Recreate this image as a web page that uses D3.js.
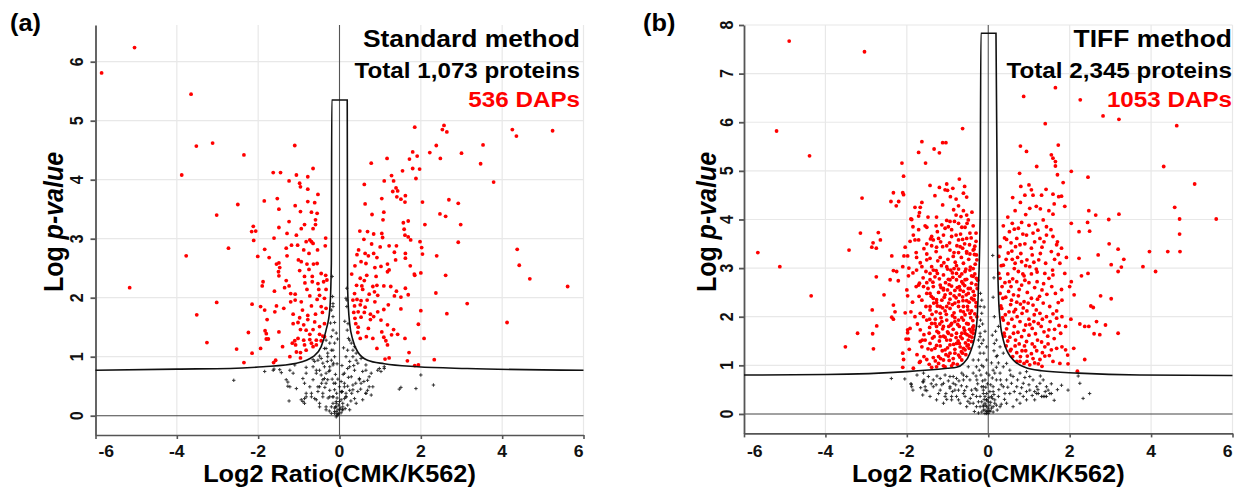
<!DOCTYPE html>
<html>
<head>
<meta charset="utf-8">
<style>
  body { margin: 0; background: #fff; }
  text { font-family: "Liberation Sans", Arial, sans-serif; font-weight: bold; }
</style>
<script src="https://d3js.org/d3.v7.min.js"></script>
</head>
<body>
<script>
// ---- data (log2 ratio, -log10 p) ----
var xTicks = [-6, -4, -2, 0, 2, 4, 6];
var yTicksA = [0, 1, 2, 3, 4, 5, 6];
var yTicksB = [0, 1, 2, 3, 4, 5, 6, 7, 8];
var titleA = ["Standard method", "Total 1,073 proteins", "536 DAPs"];
var titleB = ["TIFF method", "Total 2,345 proteins", "1053 DAPs"];

// threshold curves (left branch, box top, right branch)
var curveA = [[-6,0.77],[-4,0.79],[-2.69,0.80],[-1.88,0.83],[-1.06,0.89],[-0.65,1.0],[-0.45,1.17],[-0.33,1.45],[-0.24,1.79],[-0.2,2.58],[-0.19,5.35],
  [0.19,5.35],[0.2,2.13],[0.25,1.56],[0.33,1.28],[0.45,1.08],[0.69,0.94],[1.1,0.88],[1.92,0.83],[3.14,0.8],[6,0.77]];
var curveB = [[-6,0.80],[-4,0.81],[-2,0.87],[-1,0.94],[-0.78,0.96],[-0.61,1.04],[-0.45,1.25],[-0.29,1.80],[-0.24,2.62],[-0.2,3.99],[-0.18,7.83],
  [0.19,7.83],[0.23,3.17],[0.25,2.48],[0.29,1.93],[0.37,1.52],[0.49,1.25],[0.65,1.08],[0.9,0.96],[1.31,0.89],[2.21,0.84],[3.72,0.80],[6,0.79]];

var redA = [[-5.85,5.81],[-5.04,6.24],[-3.65,5.45],[-3.52,4.57],[-3.12,4.62],[-3.88,4.08],[-3.02,3.40],[-2.73,2.84],[-3.77,2.71],[-5.16,2.17],[-3.02,1.92],[-3.51,1.71],[-3.26,1.24],[-2.53,1.13],[-2.24,1.41],[-2.15,1.06],[-2.15,1.89],[-2.01,2.70],[-1.88,2.27],[-1.80,1.30],
  [-1.10,4.58],[-2.35,4.42],[-1.63,4.12],[-1.45,4.12],[-0.65,4.19],[-1.06,4.08],[-1.24,3.98],[-0.78,4.05],[-0.98,3.94],[-0.96,3.88],[-0.78,3.84],[-0.53,3.75],[-2.50,3.58],[-1.85,3.64],[-1.53,3.68],[-1.49,3.50],[-1.09,3.56],[-0.78,3.63],[-0.61,3.61],[-0.96,3.46],[-0.69,3.45],[-0.55,3.43],[-0.59,3.32],[-1.24,3.29],[-0.86,3.24],[-0.59,3.24],[-2.12,3.21],[-2.16,3.12],[-2.06,3.13],[-1.49,3.19],[-1.29,3.09],[-1.06,3.06],[-0.94,3.17],[-0.65,3.17],[-2.11,2.97],[-1.61,3.01],[-0.73,2.98],[-0.69,2.95],[-0.34,3.01],[-1.18,2.89],[-1.03,2.89],[-0.82,2.95],[-0.65,2.92],[-0.35,2.88],[-1.84,2.82],[-1.31,2.84],[-0.88,2.81],[-0.54,2.81],
  [-1.73,2.68],[-1.29,2.71],[-0.75,2.75],[-1.01,2.64],[-1.55,2.57],[-1.49,2.59],[-1.47,2.51],[-0.94,2.61],[-0.80,2.57],[-0.64,2.57],[-0.55,2.58],[-1.50,2.44],[-1.49,2.37],[-0.98,2.46],[-0.75,2.48],[-0.45,2.41],[-0.34,2.38],[-0.86,2.36],[-0.67,2.36],[-1.90,2.20],[-1.31,2.29],[-1.24,2.20],[-0.85,2.25],[-0.67,2.27],[-0.53,2.24],[-0.39,2.27],[-0.31,2.30],[-1.35,2.17],[-1.09,2.06],[-1.20,2.07],[-0.80,2.14],[-0.51,2.14],[-0.33,2.14],[-1.60,2.11],[-1.09,1.96],[-0.94,1.93],[-0.73,2.03],[-0.55,1.97],[-0.49,2.04],[-0.37,1.99],
  [-1.94,1.85],[-1.84,1.79],[-1.55,1.86],[-1.37,1.82],[-1.20,1.93],[-1.14,1.72],[-0.91,1.79],[-0.69,1.86],[-0.45,1.85],[-0.33,1.82],[-1.59,1.76],[-1.78,1.63],[-0.98,1.66],[-0.78,1.70],[-0.59,1.72],[-0.42,1.75],[-0.78,1.63],[-1.02,1.58],[-1.14,1.56],[-0.88,1.54],[-0.61,1.59],[-0.49,1.51],[-0.37,1.56],[-1.83,1.44],[-1.80,1.39],[-1.49,1.42],[-0.82,1.45],[-0.96,1.46],[-0.65,1.46],[-0.73,1.38],[-0.49,1.38],[-0.41,1.35],[-1.10,1.27],[-1.02,1.31],[-0.88,1.28],[-0.73,1.29],[-0.57,1.28],[-0.45,1.27],[-0.37,1.34],[-1.75,1.30],[-1.40,1.17],[-1.16,1.23],[-1.08,1.20],[-0.86,1.20],[-0.69,1.23],[-0.57,1.20],[-1.94,1.14],[-1.06,1.08],[-0.96,1.07],[-0.82,1.11],[-0.65,1.17],[-1.22,1.00],[-0.96,0.98],[-1.62,0.90],[-2.35,0.90],[-1.57,0.94],
  [1.85,4.89],[2.57,4.92],[2.53,4.85],[2.64,4.81],[3.00,4.45],[2.38,4.58],[2.22,4.46],[2.48,4.36],[1.80,4.47],[1.91,4.40],[1.72,4.35],[1.17,4.36],[0.78,4.28],[1.80,4.19],[1.97,4.18],[1.55,4.15],[1.88,4.02],[1.28,4.07],[1.10,3.98],[1.33,3.98],[0.61,3.92],[1.39,3.86],[1.43,3.81],[1.31,3.80],[1.62,3.73],[1.41,3.71],[1.51,3.67],[1.61,3.62],[1.04,3.68],[2.04,3.62],[2.69,3.66],[2.92,3.60],[0.63,3.59],[1.09,3.45],[0.80,3.41],[1.07,3.32],[1.69,3.30],[1.57,3.27],[2.10,3.24],[2.47,3.42],[2.61,3.38],[2.98,3.24],[2.92,2.94],
  [0.50,3.13],[0.69,3.12],[0.84,3.08],[1.04,3.09],[1.06,3.02],[1.59,3.16],[1.61,3.06],[1.69,3.03],[1.75,2.98],[1.98,2.95],[2.02,2.85],[0.60,2.99],[0.79,2.91],[1.00,2.86],[1.22,2.88],[1.40,2.88],[0.47,2.81],[0.43,2.73],[0.63,2.75],[0.71,2.71],[0.84,2.75],[0.92,2.68],[1.35,2.77],[1.62,2.75],[2.04,2.74],[2.39,2.71],[0.65,2.58],[0.38,2.54],[0.53,2.61],[1.18,2.57],[1.38,2.64],[1.62,2.67],[1.74,2.54],[0.87,2.51],[1.02,2.53],[1.22,2.47],[1.18,2.44],[0.30,2.40],[0.67,2.38],[0.51,2.33],[0.61,2.29],[0.90,2.36],[1.84,2.40],[1.85,2.38],[2.00,2.42],[2.61,2.38],
  [0.42,2.21],[0.55,2.20],[0.82,2.19],[0.92,2.21],[1.09,2.20],[1.26,2.19],[1.40,2.11],[1.62,2.16],[0.37,2.07],[0.73,2.06],[0.86,2.10],[1.35,2.03],[1.51,2.01],[1.69,2.05],[2.37,2.08],[0.33,1.96],[0.43,1.97],[0.53,1.95],[0.68,1.96],[0.87,1.93],[1.20,1.88],[0.37,1.86],[0.51,1.88],[0.63,1.84],[3.14,1.90],[0.35,1.75],[0.46,1.76],[0.61,1.75],[0.76,1.72],[0.94,1.76],[1.09,1.80],[1.51,1.81],[2.00,1.78],[2.64,1.73],[0.38,1.65],[0.53,1.67],[0.76,1.63],[0.84,1.68],[1.02,1.62],[0.40,1.56],[0.46,1.50],[0.71,1.48],[1.18,1.54],[1.33,1.46],[1.43,1.38],[1.94,1.55],[1.04,1.42],[1.09,1.33],[0.45,1.41],[0.51,1.31],[0.66,1.34],[0.82,1.31],[1.14,1.27],[1.28,1.37],[1.61,1.31],[2.08,1.31],[0.92,1.14],[1.18,1.20],[1.71,1.07],[1.12,0.96],[1.22,0.98],[1.67,0.93],[1.85,0.85],[1.94,0.86],[2.33,0.95],[0.57,2.14],[0.94,2.04],
  [4.25,4.85],[4.35,4.74],[5.24,4.83],[3.53,4.59],[3.47,4.27],[3.79,3.96],[4.37,2.82],[4.42,2.55],[4.68,2.32],[5.61,2.19],[4.12,1.58]];

var blackA = [[-2.60,0.60],[-1.84,0.75],[-1.63,0.77],[-1.47,0.78],[-1.43,0.73],[-1.22,0.77],[-1.10,0.86],[-0.82,0.82],[-0.65,0.95],[-0.53,0.94],[-0.49,1.01],[-0.41,0.89],[-0.29,1.00],[-0.20,1.11],[-0.24,1.23],[-0.33,1.14],[-0.57,0.77],[-0.45,0.69],[-0.37,0.63],[-0.24,0.77],[-0.16,0.86],[-1.27,0.57],[-1.22,0.49],[-1.06,0.46],[-0.82,0.38],[-0.69,0.32],[-0.57,0.27],[-0.41,0.32],[-0.53,0.49],[-0.33,0.55],[-0.24,0.43],[-0.16,0.32],[-0.20,0.15],[-0.12,0.07],[-0.08,0.21],[0.00,0.10],[-0.04,0.01],[-0.08,-0.02],[-1.24,0.25],[-0.86,0.21],[-0.49,0.21],[-0.33,0.15],[-0.16,1.85],[-0.18,2.36],[-0.17,2.02],[-0.15,0.89],[-0.10,0.55],
  [0.18,2.16],[0.16,1.99],[0.21,1.56],[0.19,1.45],[0.22,1.31],[0.29,1.23],[0.37,1.17],[0.20,1.11],[0.41,1.06],[0.33,1.00],[0.53,0.97],[0.25,0.92],[0.45,0.89],[0.65,0.86],[0.20,0.80],[0.37,0.77],[0.57,0.75],[0.78,0.72],[0.12,0.72],[0.29,0.66],[0.49,0.63],[0.69,0.60],[0.94,0.77],[1.02,0.75],[1.10,0.80],[0.12,0.55],[0.33,0.52],[0.53,0.55],[0.73,0.49],[0.25,0.43],[0.45,0.41],[0.65,0.38],[0.04,0.41],[0.16,0.32],[0.37,0.29],[0.57,0.27],[0.00,0.24],[0.20,0.18],[0.08,0.10],[-0.04,0.04],[-0.08,0.15],[1.47,0.45],[1.51,0.48],[1.88,0.46],[2.31,0.52],[2.00,0.69],[0.69,0.43],[0.78,0.35],
  [-0.90,0.24],[-0.82,0.32],[-0.69,0.38],[-0.61,0.29],[-0.53,0.41],[-0.49,0.49],[-0.41,0.61],[-0.33,0.72],[-0.24,0.83],[-0.20,0.94],[-0.29,1.06],[-0.37,1.14],[-0.33,1.28],[-0.20,1.34],[-0.16,1.45],[-0.22,1.57],[-0.16,1.68],[-0.20,1.79],[-0.16,1.90],[-0.29,0.61],[-0.41,0.38],[-0.24,0.32],[-0.16,0.21],[-0.12,0.13],[-0.08,0.07],[-0.65,0.61],[-0.73,0.49],[-0.86,0.55],[-0.57,0.72],[-0.49,0.77],[-0.37,0.83],[-0.26,0.75],[-0.61,0.92],[-0.45,0.97],[-0.16,1.11],[-0.12,1.23],[-0.08,1.40],[-0.65,0.83],[-0.82,0.72],[-0.49,0.15],[-0.33,0.10],[-0.20,0.04],
  [0.25,1.28],[0.33,1.11],[0.16,1.00],[0.41,0.94],[0.25,0.83],[0.65,0.77],[0.73,0.66],[0.49,0.61],[0.82,0.49],[0.33,0.44],[0.16,0.32],[0.65,0.38],[0.08,0.15],[0.25,0.10],[0.41,0.21],[0.98,0.80],[1.10,0.83],[0.18,1.85],[0.18,1.96],
  [-0.12,0.04],[-0.07,0.01],[-0.02,0.03],[0.04,0.05],[-0.04,0.10],[0.02,0.13],[-0.10,0.15],[0.07,0.10],[-0.02,0.18],[0.08,0.21],[-0.08,0.24],[0.04,0.27],[-0.16,0.32],[0.12,0.29],[-0.07,0.38],[0.07,0.41],[0.16,0.38],[-0.12,0.44],[0.00,0.49],[0.12,0.49],
  [-1.31,0.61],[-1.27,0.50],[-0.94,0.27],[-0.86,0.29],[-1.14,0.72],[-0.90,0.63],[-1.61,0.79],
  [-0.06,0.30],[-0.14,0.55],[-0.10,0.70],[-0.04,0.62],[0.04,0.58],[0.09,0.70],[0.06,0.85],[-0.06,0.88],[-0.12,1.00],[0.10,1.15],[-0.28,0.30],[-0.36,0.48],[-0.44,0.55],[0.20,0.50],[0.30,0.38],[0.40,0.55],[0.52,0.45],[0.60,0.58],[0.28,0.25],[0.14,0.12],[-0.25,0.08],[-0.30,0.92],[0.13,1.60],[-0.12,1.58],[-0.05,1.30],[0.05,0.40],[-0.18,0.62],[0.22,0.65],[0.35,0.85]];

var redB = [[-4.89,7.67],[-3.04,7.45],[-5.20,5.82],[-4.39,5.31],[-5.66,3.32],[-5.12,3.03],[-4.35,2.43],[-1.90,4.01],[-1.85,3.85],[-1.98,1.73],[-2.02,1.54],[-1.67,1.08],
  [-0.63,5.87],[-1.63,5.60],[-1.12,5.58],[-1.04,5.58],[-1.71,5.38],[-1.33,5.45],[-1.20,5.37],[-2.12,5.16],[-1.54,5.16],[-2.08,4.89],[-0.71,4.83],[-1.43,4.70],[-1.20,4.66],[-1.02,4.73],[-1.06,4.61],[-1.00,4.60],[-0.87,4.64],[-0.61,4.54],[-2.33,4.55],[-2.10,4.55],[-2.08,4.51],[-3.10,4.44],[-2.39,4.37],[-2.20,4.37],[-2.26,4.28],[-1.31,4.49],[-0.79,4.42],[-0.53,4.46],[-1.80,4.25],[-1.67,4.25],[-1.63,4.35],[-1.69,4.14],[-1.71,4.07],[-1.88,4.00],[-1.27,4.05],[-0.73,4.28],[-0.61,4.18],[-0.79,4.09],[-0.67,4.06],[-0.53,4.09],[-0.49,3.99],[-1.02,3.98],[-0.94,3.96],[-0.83,3.96],[-0.73,3.92],[-1.55,3.87],[-1.51,3.84],[-1.28,3.87],[-1.14,3.89],[-1.06,3.82],[-0.90,3.79],[-0.65,3.84],[-0.57,3.84],[-0.37,3.87],[-1.71,3.79],[-1.84,3.68],
  [-3.14,3.72],[-2.70,3.73],[-2.65,3.58],[-2.83,3.52],[-2.86,3.43],[-2.75,3.41],[-1.92,3.55],[-1.80,3.58],[-1.71,3.58],[-1.39,3.65],[-1.35,3.58],[-1.22,3.61],[-1.10,3.68],[-1.17,3.54],[-0.90,3.65],[-0.79,3.68],[-0.73,3.58],[-0.63,3.59],[-0.53,3.61],[-0.45,3.72],[-0.30,3.72],[-0.30,3.55],[-1.51,3.50],[-1.39,3.46],[-1.27,3.43],[-1.28,3.34],[-1.02,3.46],[-0.94,3.37],[-0.84,3.32],[-0.73,3.32],[-0.63,3.41],[-0.53,3.34],[-0.45,3.29],[-0.35,3.39],[-0.29,3.27],[-3.42,3.37],[-2.37,3.25],[-2.04,3.43],[-2.07,3.25],[-1.98,3.25],[-1.77,3.32],[-1.76,3.22],[-1.51,3.29],[-1.43,3.20],[-1.18,3.22],[-1.09,3.11],
  [-2.10,3.03],[-1.67,3.11],[-1.63,3.03],[-1.53,2.93],[-1.76,2.96],[-1.39,3.03],[-1.35,2.96],[-1.25,2.89],[-1.31,2.82],[-1.43,2.76],[-1.02,3.03],[-0.92,2.96],[-0.84,2.99],[-0.73,2.98],[-0.65,2.88],[-0.57,2.93],[-0.45,2.96],[-0.37,2.99],[-0.33,2.88],[-0.29,2.79],[-1.10,2.86],[-0.98,2.77],[-0.87,2.81],[-0.78,2.76],[-0.65,2.72],[-0.53,2.77],[-0.41,2.69],[-2.33,2.95],[-2.25,2.93],[-2.21,2.74],[-2.41,2.76],[-2.75,2.82],[-1.96,2.84],[-1.69,2.69],[-1.59,2.62],[-1.51,2.70],[-1.18,2.65],[-1.10,2.58],[-1.00,2.55],[-0.90,2.63],[-0.82,2.54],[-0.71,2.62],[-0.61,2.52],[-0.49,2.58],[-0.37,2.52],[-0.27,2.58],
  [-2.56,2.45],[-2.00,2.55],[-1.98,2.43],[-1.77,2.62],[-1.71,2.65],[-1.63,2.34],[-1.43,2.48],[-1.35,2.38],[-1.27,2.29],[-1.14,2.34],[-1.06,2.45],[-0.94,2.36],[-0.84,2.43],[-0.73,2.31],[-0.63,2.41],[-0.53,2.33],[-0.41,2.38],[-0.30,2.29],[-2.33,2.24],[-2.29,2.10],[-2.37,1.99],[-2.33,1.95],[-1.90,2.10],[-2.04,2.08],[-1.80,2.00],[-1.67,2.07],[-2.85,2.14],[-1.53,2.21],[-1.43,2.14],[-1.28,2.10],[-1.18,2.21],[-1.06,2.12],[-0.94,2.17],[-0.84,2.08],[-0.73,2.21],[-0.61,2.10],[-0.51,2.21],[-0.41,2.12],[-0.30,2.21],
  [-1.51,1.93],[-1.39,1.86],[-1.27,1.80],[-1.14,1.90],[-1.02,1.93],[-0.92,1.83],[-0.82,1.90],[-0.71,1.80],[-0.61,1.93],[-0.49,1.85],[-0.38,1.92],[-2.74,1.81],[-3.21,1.66],[-2.84,1.65],[-1.98,1.67],[-1.92,1.76],[-1.67,1.73],[-1.58,1.63],[-1.45,1.66],[-1.33,1.59],[-1.22,1.67],[-1.10,1.60],[-1.00,1.69],[-0.90,1.62],[-0.78,1.66],[-0.68,1.59],[-0.57,1.66],[-0.46,1.60],[-0.37,1.66],[-3.51,1.38],[-2.82,1.34],[-1.96,1.54],[-1.94,1.33],[-1.67,1.49],[-1.63,1.38],[-1.43,1.45],[-1.31,1.35],[-1.18,1.40],[-1.06,1.32],[-0.94,1.42],[-0.82,1.33],[-0.71,1.45],[-0.61,1.35],[-0.49,1.42],[-0.41,1.49],
  [-2.10,1.25],[-2.08,1.12],[-2.10,0.96],[-1.84,0.94],[-1.69,1.06],[-1.51,1.12],[-1.35,1.16],[-1.22,1.04],[-1.10,1.11],[-0.98,1.19],[-0.86,1.14],[-0.73,1.21],[-0.63,1.25],[-1.39,0.96],[-1.27,0.97],[-1.10,0.99],
  [-0.69,3.44],[-0.53,3.31],[-0.37,3.37],[-0.86,3.24],[-0.61,3.10],[-0.28,3.17],[-0.78,2.89],[-0.57,2.76],[-0.37,2.83],[-0.26,2.75],[-0.69,2.55],[-0.49,2.48],[-0.37,2.35],[-0.82,2.28],[-0.61,2.21],[-0.45,2.07],[-0.28,2.00],[-0.73,1.93],[-0.53,1.86],[-0.37,1.73],[-0.65,1.66],[-0.49,1.52],[-0.78,1.45],[-0.57,1.32],[-0.65,1.11],[-0.86,1.04],[-0.94,1.25],[-1.02,1.52],[-1.10,1.80],[-1.18,2.07],[-1.27,2.35],[-1.35,2.62],[-1.43,2.89],[-1.51,3.17],[-0.94,2.76],[-1.10,2.55],[-1.02,2.21],[-0.90,1.86],[-0.98,1.66],[-1.18,1.59],[-1.31,1.86],[-1.43,2.21],[-1.51,2.48],[-1.59,2.00],[-1.55,1.52],[-1.39,1.32],[-1.22,1.18],[-1.06,0.97],
  [-0.42,3.62],[-0.58,3.50],[-0.77,3.46],[-0.95,3.52],[-1.12,3.44],[-0.33,3.45],[-0.48,3.18],[-0.66,3.22],[-0.81,3.12],[-0.99,3.18],[-1.15,3.05],[-1.24,3.15],[-0.32,3.08],[-0.41,2.84],[-0.55,2.98],[-0.70,2.83],[-0.88,2.90],[-1.05,2.70],[-1.20,2.78],[-1.36,2.71],[-0.30,2.66],[-0.44,2.58],[-0.58,2.64],[-0.76,2.60],[-0.93,2.48],[-1.08,2.40],[-1.22,2.50],[-1.40,2.42],[-0.34,2.44],[-0.47,2.30],[-0.62,2.33],[-0.79,2.39],[-0.97,2.28],[-1.12,2.18],[-1.25,2.22],[-1.38,2.05],[-0.33,2.06],[-0.43,1.98],[-0.57,2.04],[-0.68,2.12],[-0.88,2.02],[-1.03,2.05],[-1.16,1.98],[-1.30,1.95],[-0.36,1.81],[-0.46,1.74],[-0.60,1.77],[-0.75,1.84],[-0.86,1.74],[-0.97,1.80],[-1.12,1.75],[-1.26,1.70],[-1.44,1.78],
  [-0.40,1.58],[-0.52,1.63],[-0.64,1.55],[-0.79,1.57],[-0.93,1.52],[-1.06,1.58],[-1.20,1.50],[-1.37,1.56],[-0.47,1.35],[-0.56,1.46],[-0.69,1.38],[-0.85,1.43],[-1.00,1.36],[-1.13,1.30],[-1.27,1.41],[-1.48,1.34],[-0.55,1.22],[-0.70,1.17],[-0.82,1.25],[-0.96,1.10],[-1.04,1.22],[-1.17,1.14],[-1.30,1.09],[-1.45,1.02],[-0.76,1.02],[-0.90,0.99],[-1.58,1.18],[-1.75,1.22],[-1.62,1.52],[-1.74,1.85],[-1.86,2.30],[-1.70,2.42],[-1.60,2.80],[-1.85,2.90],[-1.58,3.40],[-1.95,3.00],[-1.42,3.60],[-1.25,3.75],[-0.98,3.85],[-0.68,3.70],[-0.52,3.92],[-0.40,4.15],[-0.85,4.20],[-1.12,4.30],[-1.48,4.05],[-0.58,4.68],[-0.93,4.47],[-0.44,3.02],[-0.62,2.68],[-0.50,2.14],[-0.65,1.98],[-0.42,1.69],[-0.74,1.50],[-0.58,1.72],[-0.88,2.25],[-1.00,2.98],[-0.78,3.05],[-0.34,3.28],[-0.46,3.48],[-0.71,2.45],[-0.96,2.66],[-1.16,2.60],[-1.28,2.95],[-1.48,2.58],[-1.34,2.28],[-1.19,1.85],[-1.44,1.95],[-0.54,2.45],[-0.82,1.98],[-0.66,1.28],[-0.52,1.40],[-0.38,1.78],[-0.35,2.35],
  [1.65,6.71],[0.87,6.53],[2.26,6.46],[2.82,6.13],[3.21,6.06],[1.40,5.97],[0.79,5.51],[0.94,5.40],[1.72,5.53],[1.55,5.33],[1.59,5.26],[1.65,5.19],[1.65,5.10],[1.19,5.09],[2.04,4.99],[1.70,4.92],[1.84,4.76],[2.45,4.87],[0.77,4.95],[0.80,4.68],[1.00,4.71],[1.06,4.61],[0.90,4.50],[1.10,4.50],[1.31,4.50],[1.59,4.52],[1.73,4.47],[1.80,4.48],[1.88,4.27],[1.62,4.32],[0.79,4.35],[1.02,4.23],[1.18,4.27],[1.49,4.18],[1.59,4.11],[2.47,4.18],[2.64,4.09],[2.96,4.00],[3.21,4.11],
  [0.37,3.87],[0.59,3.92],[0.82,3.94],[1.16,3.91],[1.35,3.99],[1.43,3.85],[1.54,3.79],[2.04,3.92],[2.44,3.94],[2.23,3.75],[2.49,3.76],[0.45,3.59],[0.70,3.61],[0.74,3.82],[0.94,3.68],[1.10,3.72],[1.27,3.61],[1.37,3.54],[1.43,3.68],[1.59,3.65],[1.68,3.48],[1.70,3.54],[0.29,3.44],[0.56,3.52],[0.67,3.44],[0.78,3.48],[0.90,3.50],[1.06,3.41],[1.14,3.54],[1.32,3.43],[1.55,3.34],[1.80,3.41],[2.97,3.50],[3.19,3.39],[3.33,3.18],
  [0.26,3.24],[0.49,3.31],[0.59,3.18],[0.72,3.22],[0.82,3.13],[0.95,3.17],[1.08,3.27],[1.24,3.17],[1.41,3.10],[1.63,3.18],[1.76,3.10],[1.92,3.22],[2.23,3.20],[2.70,3.27],[3.02,3.07],[3.27,3.02],[3.19,2.93],[0.37,3.06],[0.64,2.99],[0.74,2.93],[0.88,2.84],[1.02,3.03],[1.18,2.98],[1.39,2.89],[1.49,2.79],[1.59,2.86],[1.88,2.89],[2.04,2.72],[2.29,2.84],[2.45,2.89],[0.26,2.89],
  [0.29,2.79],[0.41,2.70],[0.56,2.62],[0.70,2.72],[0.82,2.65],[1.00,2.70],[1.14,2.60],[1.32,2.55],[1.65,2.48],[1.80,2.56],[2.00,2.62],[2.11,2.45],[2.76,2.43],[3.02,2.37],[2.52,2.22],[2.58,2.19],[0.29,2.48],[0.43,2.40],[0.57,2.34],[0.74,2.43],[0.88,2.31],[1.06,2.38],[1.21,2.36],[1.35,2.28],[1.51,2.21],[1.72,2.29],[1.81,2.34],
  [0.33,2.17],[0.51,2.10],[0.67,2.15],[0.83,2.07],[0.95,2.12],[1.13,2.04],[1.27,2.07],[1.43,2.00],[1.59,2.06],[1.68,1.97],[1.81,2.00],[2.03,1.95],[2.25,1.85],[2.37,1.80],[2.47,1.80],[2.66,1.90],[2.88,1.83],[3.19,1.66],[2.60,1.65],[2.74,1.63],[0.37,1.93],[0.49,1.86],[0.64,1.80],[0.78,1.90],[0.92,1.83],[1.08,1.76],[1.23,1.86],[1.37,1.69],[1.49,1.73],[1.63,1.74],[1.78,1.66],[1.90,1.80],
  [0.39,1.66],[0.53,1.58],[0.67,1.52],[0.82,1.59],[0.94,1.49],[1.08,1.44],[1.21,1.52],[1.39,1.38],[1.55,1.32],[1.68,1.35],[1.81,1.38],[1.90,1.32],[1.95,1.21],[0.44,1.40],[0.56,1.33],[0.70,1.26],[0.83,1.30],[0.96,1.19],[1.10,1.14],[1.27,1.12],[1.39,1.19],[1.59,1.08],[1.76,1.04],[1.96,1.03],[2.37,1.12],[0.60,1.18],[0.70,1.08],[0.88,1.04],[1.02,1.01],[1.23,1.03],[2.19,0.88],[2.10,1.35],
  [0.32,3.05],[0.44,3.18],[0.58,3.35],[0.66,3.10],[0.80,3.30],[0.92,3.05],[1.12,3.12],[1.28,3.30],[0.34,2.62],[0.48,2.88],[0.60,2.78],[0.76,2.56],[0.90,2.75],[1.06,2.88],[1.20,2.72],[1.36,2.68],[0.36,2.38],[0.50,2.52],[0.62,2.45],[0.79,2.26],[0.96,2.50],[1.10,2.24],[1.26,2.42],[1.44,2.46],[0.42,2.04],[0.55,2.25],[0.71,2.00],[0.86,2.18],[1.00,1.95],[1.18,2.14],[1.33,1.95],[1.52,1.90],[0.45,1.75],[0.58,1.95],[0.73,1.68],[0.88,1.72],[1.02,1.84],[1.16,1.65],[1.30,1.80],[1.46,1.60],[0.48,1.50],[0.62,1.66],[0.76,1.44],[0.89,1.40],[1.00,1.62],[1.14,1.38],[1.31,1.48],[1.47,1.44],[0.54,1.30],[0.66,1.40],[0.79,1.18],[0.92,1.30],[1.06,1.24],[1.19,1.30],[1.33,1.26],[1.50,1.20],[0.78,1.08],[0.95,1.08],[1.14,1.05],[1.32,0.98],
  [0.40,3.62],[0.52,3.75],[0.64,3.80],[0.85,3.70],[1.00,3.88],[1.22,3.78],[0.48,4.05],[0.66,4.18],[0.92,4.10],[1.28,4.22],[0.60,4.45],[1.42,4.62],[0.31,2.22],[0.35,1.98],[0.40,1.60],[0.63,2.10],[0.85,2.88],[1.20,2.92],[1.56,2.62],[1.68,2.12],[1.62,1.55],[1.74,1.82],[1.58,2.96],[1.72,3.28],[0.98,2.28],[1.12,1.90],[0.70,2.30],[0.52,2.72],
  [4.63,5.93],[4.31,5.09],[5.07,4.73],[4.58,4.25],[4.70,4.01],[5.60,4.01],[4.70,3.70],[3.96,3.34],[4.41,3.34],[4.71,3.34],[3.80,3.03],[4.11,2.93]];

var blackB = [[-2.38,0.73],[-1.89,0.61],[-1.88,0.56],[-1.59,0.66],[-1.55,0.56],[-1.51,0.48],[-1.35,0.70],[-1.28,0.60],[-1.10,0.63],[-1.18,0.49],[-1.04,0.42],[-0.94,0.56],[-0.82,0.49],[-0.90,0.36],[-0.73,0.29],[-0.61,0.42],[-0.53,0.56],[-0.45,0.70],[-0.37,0.84],[-0.29,0.97],[-0.24,1.11],[-0.20,1.25],[-0.22,1.38],[-0.24,1.52],[-0.20,1.66],[-0.22,1.80],[-0.19,1.93],[-0.16,2.07],[-0.20,2.21],[-0.19,2.48],[-0.16,2.34],[-0.45,0.22],[-0.29,0.15],[-0.12,0.08],[-0.04,0.01],[-0.08,0.22],[-0.29,0.36],[-0.41,0.49],[-0.53,0.77],[-0.65,0.84],[-0.78,0.73],[-0.94,0.77],[-1.06,0.80],[-1.18,0.73],[-0.12,0.42],[-0.04,0.29],[-0.16,0.56],[-0.08,0.70],[-0.04,0.84],[-0.12,0.97],[-0.04,1.11],[-0.11,1.25],[-0.04,1.38],[-0.12,1.52],
  [-1.59,0.84],[-1.47,0.77],[-1.55,0.49],[-1.35,0.56],[-1.22,0.42],[-1.06,0.36],[-0.94,0.53],[-0.86,0.63],[-0.78,0.36],[-0.69,0.22],[-0.57,0.36],[-0.28,0.70],[-0.12,0.56],[-0.20,0.36],[-0.37,0.22],[-0.53,0.15],[-0.12,0.15],[-0.08,0.01],[-0.28,0.49],[-0.86,0.77],[-0.61,0.80],[-0.49,0.97],[-0.37,1.11],[-1.43,0.36],[-1.27,0.29],[-1.10,0.22],[-0.90,0.29],[-0.73,0.49],[-0.61,0.70],[-0.04,0.29],[0.00,0.12],[0.04,0.05],[-0.16,1.45],[-0.20,1.59],
  [-1.90,0.62],[-1.85,0.49],[-1.61,0.66],[-1.58,0.70],[-1.61,0.39],
  [0.12,0.56],[0.20,0.70],[0.29,0.84],[0.37,0.97],[0.45,1.04],[0.53,0.90],[0.61,0.77],[0.78,0.84],[0.94,0.87],[1.10,0.70],[1.27,0.63],[1.43,0.56],[1.51,0.42],[1.35,0.36],[1.19,0.42],[1.02,0.49],[0.86,0.36],[0.70,0.29],[0.53,0.42],[0.37,0.56],[0.25,0.36],[0.16,0.22],[0.29,0.15],[0.45,0.22],[0.61,0.15],[0.78,0.22],[0.94,0.29],[1.14,0.29],[0.20,1.52],[0.25,1.80],[0.29,1.38],[0.37,1.25],[0.20,1.18],[0.11,3.26],[2.25,0.63],[2.33,0.32],[2.49,0.42],[2.21,0.78],[1.47,0.49],[1.55,0.42],[1.23,0.42],[1.39,0.36],[1.80,0.59],[1.96,0.49],
  [0.45,0.70],[0.70,0.56],[0.86,0.63],[1.02,0.77],[1.19,0.56],[1.35,0.70],[1.43,0.36],[0.78,0.42],[0.41,0.42],[0.57,0.63],[0.94,0.46],[1.14,0.46],[1.31,0.36],[0.15,2.00],[0.18,1.70],[0.22,1.20],[0.15,1.45],[0.25,1.05],[0.12,0.90],[0.30,0.70],
  [-0.08,0.08],[-0.04,0.05],[0.00,0.01],[0.04,0.07],[0.08,0.12],[-0.04,0.15],[-0.12,0.18],[0.04,0.18],[0.12,0.15],[-0.16,0.25],[0.00,0.25],[0.16,0.29],[-0.08,0.36],[0.08,0.36],[-0.20,0.15],[0.20,0.18],[-0.04,0.42],[0.04,0.46],[-0.12,0.49],[0.12,0.46],
  [-0.10,0.30],[-0.06,0.55],[-0.14,0.68],[-0.18,0.80],[-0.22,0.90],[-0.26,0.62],[-0.32,0.52],[-0.38,0.40],[-0.44,0.32],[-0.50,0.26],[-0.58,0.48],[-0.66,0.58],[-0.72,0.68],[-0.80,0.60],[-0.88,0.46],[-0.98,0.68],[-1.02,0.30],[-1.14,0.60],[-1.26,0.78],[-1.40,0.62],[-1.66,0.54],[-1.75,0.80],[-2.05,0.72],[-0.34,0.05],[-0.24,0.02],[-0.16,0.04],[-0.06,0.18],[0.06,0.24],[0.10,0.32],[0.14,0.40],[0.06,0.60],[0.10,0.74],[0.16,0.84],[0.20,0.96],[0.26,0.50],[0.32,0.60],[0.40,0.30],[0.48,0.55],[0.55,0.80],[0.64,0.46],[0.72,0.70],[0.82,0.54],[0.90,0.75],[1.00,0.60],[1.08,0.38],[1.22,0.50],[1.28,0.78],[1.40,0.46],[1.55,0.62],[1.62,0.28],[1.70,0.50],[0.32,0.20],[0.22,0.08],[0.12,0.04],[-0.02,0.06],[0.02,0.34],[-0.02,0.62],[0.02,0.80],[-0.24,0.25],[-0.30,0.78],[-0.16,1.00],[0.08,1.05],[0.14,1.30],[-0.08,1.70],[-0.14,1.85],[0.10,1.62],[-0.10,2.20],[0.12,2.40],[0.14,2.80]];

// ---- drawing ----
var svg = d3.select("body").append("svg").attr("width", 1245).attr("height", 493);
svg.append("rect").attr("width", 1245).attr("height", 493).attr("fill", "#fff");

function stretch(sel) {
    sel.each(function () {
        var l = this.getComputedTextLength();
        d3.select(this).attr("textLength", l * 1.1).attr("lengthAdjust", "spacingAndGlyphs");
    });
}

function panel(p) {
    var x = d3.scaleLinear().domain([-6, 6]).range([p.left, p.right]);
    var y = d3.scaleLinear().domain(p.yDomain).range([p.bottom, p.top]);
    var g = svg.append("g");

    // grid
    g.selectAll(".gx").data(xTicks.filter(function (d) { return d !== 0 && d !== -6; }))
        .enter().append("line")
        .attr("x1", function (d) { return x(d); }).attr("x2", function (d) { return x(d); })
        .attr("y1", p.top).attr("y2", p.bottom)
        .attr("stroke", "#e8e8e8").attr("stroke-width", 1.2);
    g.selectAll(".gy").data(p.yTicks.filter(function (d) { return d !== 0; }))
        .enter().append("line")
        .attr("x1", p.left).attr("x2", p.right)
        .attr("y1", function (d) { return y(d); }).attr("y2", function (d) { return y(d); })
        .attr("stroke", "#e8e8e8").attr("stroke-width", 1.2);

    // zero lines
    g.append("line").attr("x1", p.left).attr("x2", p.right).attr("y1", y(0)).attr("y2", y(0))
        .attr("stroke", "#444").attr("stroke-width", 1.1);
    g.append("line").attr("x1", x(0)).attr("x2", x(0)).attr("y1", p.top).attr("y2", p.bottom)
        .attr("stroke", "#555").attr("stroke-width", 1.1);

    // axes
    var ax = g.append("g").attr("transform", "translate(0," + p.bottom + ")")
        .call(d3.axisBottom(x).tickValues(xTicks).tickSize(4).tickSizeOuter(0).tickFormat(""));
    ax.selectAll("path,line").attr("stroke", "#555").attr("stroke-width", 1.6);
    var ay = g.append("g").attr("transform", "translate(" + p.left + ",0)")
        .call(d3.axisLeft(y).tickValues(p.yTicks).tickSize(5).tickSizeOuter(0).tickFormat(""));
    ay.selectAll("path,line").attr("stroke", "#555").attr("stroke-width", 1.8);

    // points
    g.selectAll(".nb").data(p.black).enter().append("path")
        .attr("d", function (d) { var px = x(d[0]), py = y(d[1]); return "M" + (px - 1.7) + "," + py + "h3.4M" + px + "," + (py - 1.7) + "v3.4"; })
        .attr("stroke", "#111").attr("stroke-width", 1).attr("opacity", 0.85);
    g.selectAll(".dap").data(p.red).enter().append("circle")
        .attr("cx", function (d) { return x(d[0]); }).attr("cy", function (d) { return y(d[1]); })
        .attr("r", 1.9).attr("fill", "#ff0000");

    // threshold curve
    var line = d3.line().x(function (d) { return x(d[0]); }).y(function (d) { return y(d[1]); }).curve(d3.curveMonotoneX);
    g.append("path").datum(p.curve).attr("d", line).attr("fill", "none")
        .attr("stroke", "#111").attr("stroke-width", 1.6);

    // tick labels
    g.selectAll(".xl").data(xTicks).enter().append("text")
        .attr("x", function (d) { return d === -6 ? x(d) + 3 : x(d); })
        .attr("y", 457)
        .attr("text-anchor", function (d) { return d === -6 ? "start" : (d === 6 ? "end" : "middle"); })
        .attr("font-size", 16).attr("fill", "#111")
        .text(function (d) { return d; })
        .call(stretch);
    g.selectAll(".yl").data(p.yTicks).enter().append("text")
        .attr("transform", function (d) { return "translate(" + p.tickLabelX + "," + y(d) + ") rotate(-90) scale(1,1.1)"; })
        .attr("text-anchor", "middle").attr("font-size", 16).attr("fill", "#111")
        .text(function (d) { return d; });

    // axis titles
    var yt = g.append("text")
        .attr("transform", "translate(" + p.yTitleX + ",222) rotate(-90) scale(1,1.1)")
        .attr("text-anchor", "middle").attr("font-size", 25).attr("fill", "#000");
    yt.append("tspan").text("Log ");
    yt.append("tspan").attr("font-style", "italic").text("p-value");
    g.append("text").attr("x", x(0)).attr("y", 482).attr("text-anchor", "middle")
        .attr("font-size", 23).attr("fill", "#000").text("Log2 Ratio(CMK/K562)").call(stretch);

    // panel letter and annotation
    g.append("text").attr("x", p.letterX).attr("y", 30.5).attr("font-size", 23).attr("fill", "#000")
        .text(p.letter).call(stretch);
    var sizes = [24, 22, 22], base = [46.7, 78.3, 106.7], cols = ["#000", "#000", "#ff0000"];
    g.selectAll(".ttl").data(p.title).enter().append("text")
        .attr("x", p.titleX).attr("y", function (d, i) { return base[i]; })
        .attr("text-anchor", "end")
        .attr("font-size", function (d, i) { return sizes[i]; })
        .attr("fill", function (d, i) { return cols[i]; })
        .text(function (d) { return d; })
        .call(stretch);
}

panel({left: 95.5, right: 583.5, top: 25, bottom: 435, yDomain: [-0.327, 6.622], yTicks: yTicksA,
       red: redA, black: blackA, curve: curveA, title: titleA, titleX: 580,
       tickLabelX: 83, yTitleX: 63, letter: "(a)", letterX: 10});
panel({left: 744, right: 1232.5, top: 25, bottom: 433.4, yDomain: [-0.4, 8], yTicks: yTicksB,
       red: redB, black: blackB, curve: curveB, title: titleB, titleX: 1232,
       tickLabelX: 733, yTitleX: 716, letter: "(b)", letterX: 643});
</script>
</body>
</html>
